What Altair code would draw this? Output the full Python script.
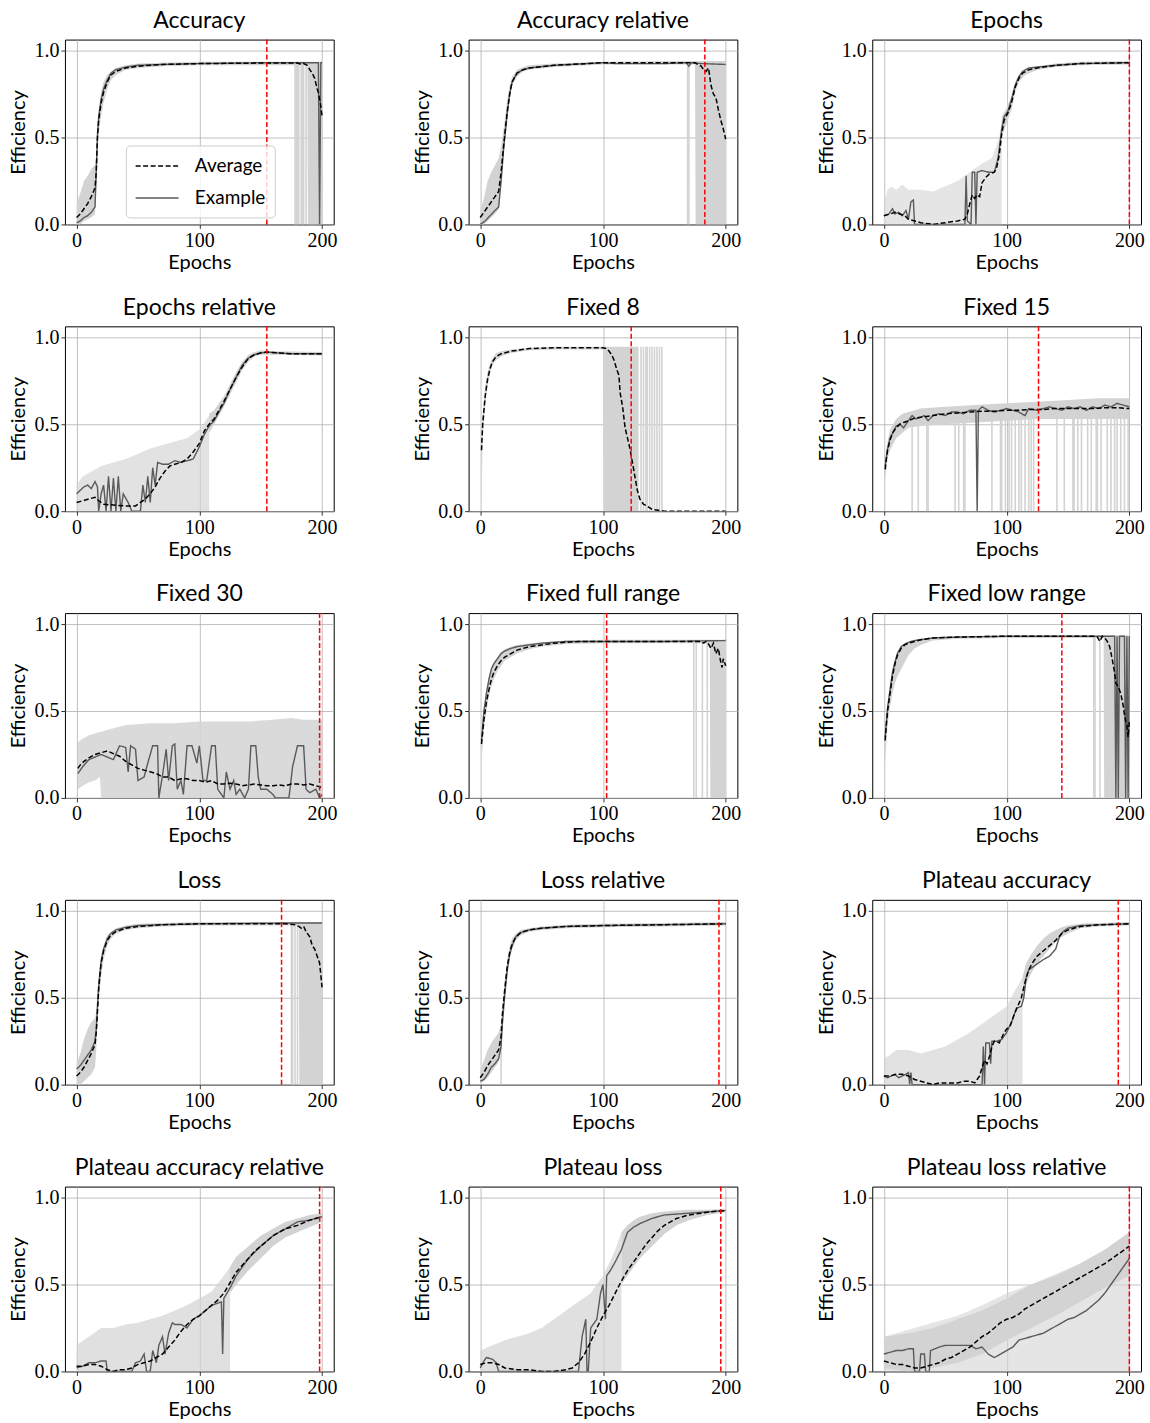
import altair as alt
import pandas as pd

TITLES = ["Accuracy", "Accuracy relative", "Epochs", "Epochs relative", "Fixed 8", "Fixed 15",
          "Fixed 30", "Fixed full range", "Fixed low range", "Loss", "Loss relative",
          "Plateau accuracy", "Plateau accuracy relative", "Plateau loss", "Plateau loss relative"]

# stop epochs (red dashed line)
STOPS = [155, 183, 200, 155, 123, 126, 198, 103, 145, 167, 194.5, 191, 198, 196, 200]

# ---------- Accuracy ----------
acc_avg = [[0,0.04],[3,0.06],[6,0.09],[9,0.12],[12,0.16],[15,0.21],[16,0.3],[17,0.5],[18,0.6],[20,0.7],[22,0.76],[25,0.82],[28,0.86],[32,0.88],[40,0.9],[50,0.91],[70,0.92],[100,0.925],[150,0.928],[180,0.928],[183,0.92],[185,0.925],[188,0.915],[190,0.89],[192,0.87],[194,0.84],[196,0.78],[197,0.76],[198,0.72],[199,0.68],[200,0.62]]
acc_ex = [[0,0.01],[3,0.02],[6,0.04],[9,0.05],[12,0.07],[15,0.1],[16,0.3],[17,0.52],[18,0.62],[20,0.72],[22,0.78],[25,0.83],[28,0.87],[32,0.89],[40,0.905],[50,0.915],[70,0.92],[100,0.925],[150,0.93],[197,0.93],[198,0.0],[199,0.93],[200,0.93]]
acc_band = [[0,0.0,0.12],[3,0.0,0.18],[6,0.02,0.25],[9,0.03,0.28],[12,0.04,0.32],[15,0.06,0.34],[16,0.2,0.4],[17,0.42,0.56],[18,0.52,0.66],[20,0.63,0.76],[22,0.7,0.82],[25,0.78,0.86],[28,0.83,0.88],[32,0.86,0.9],[40,0.89,0.915],[50,0.9,0.925],[70,0.91,0.93],[100,0.915,0.935],[188,0.915,0.935],[188.5,0.0,0.935],[200,0.0,0.935]]
acc_haze = []
acc_spikes = [[178,0.935],[179,0.935],[180,0.935],[181,0.935],[183,0.935],[184,0.935],[185,0.935],[187,0.935]]

# ---------- Accuracy relative ----------
accr_avg = [[0,0.04],[3,0.07],[6,0.1],[9,0.13],[12,0.16],[15,0.19],[17,0.3],[19,0.45],[20,0.52],[22,0.65],[24,0.75],[26,0.82],[30,0.87],[35,0.89],[40,0.9],[60,0.915],[100,0.93],[150,0.93],[175,0.93],[177,0.92],[180,0.91],[182,0.89],[184,0.88],[186,0.9],[188,0.8],[190,0.75],[192,0.73],[194,0.66],[196,0.6],[198,0.55],[200,0.49]]
accr_ex = [[0,0.0],[4,0.02],[8,0.05],[12,0.08],[15,0.1],[17,0.25],[19,0.43],[20,0.5],[22,0.64],[24,0.75],[26,0.82],[30,0.87],[35,0.89],[40,0.9],[60,0.915],[100,0.93],[110,0.925],[150,0.925],[168,0.93],[170,0.91],[172,0.93],[180,0.925],[200,0.92]]
accr_band = [[0,0.0,0.08],[3,0.0,0.15],[6,0.02,0.25],[9,0.04,0.3],[12,0.06,0.34],[15,0.09,0.38],[17,0.22,0.45],[19,0.4,0.55],[20,0.47,0.6],[22,0.6,0.72],[24,0.72,0.8],[26,0.8,0.85],[30,0.85,0.89],[35,0.88,0.905],[40,0.89,0.915],[60,0.905,0.925],[100,0.92,0.935],[175,0.92,0.94],[175.5,0.0,0.94],[200,0.0,0.94]]
accr_haze = []
accr_spikes = [[169,0.93],[170,0.93]]

# ---------- Epochs ----------
ep_avg = [[0,0.05],[5,0.06],[9,0.07],[13,0.06],[17,0.05],[20,0.03],[25,0.02],[30,0.01],[40,0.0],[50,0.01],[60,0.02],[66,0.03],[68,0.06],[70,0.12],[72,0.17],[74,0.15],[76,0.17],[78,0.16],[80,0.24],[83,0.27],[86,0.29],[90,0.3],[92,0.33],[94,0.4],[96,0.52],[98,0.6],[101,0.64],[104,0.7],[107,0.79],[110,0.84],[113,0.87],[118,0.89],[125,0.9],[140,0.915],[160,0.925],[200,0.93]]
ep_ex = [[0,0.05],[4,0.06],[7,0.09],[9,0.06],[12,0.07],[15,0.05],[18,0.08],[20,0.03],[22,0.13],[24,0.14],[25,0.0],[66,0.0],[67,0.28],[68,0.02],[71,0.0],[72,0.3],[74,0.3],[75,0.0],[76,0.3],[80,0.31],[85,0.3],[90,0.3],[93,0.38],[96,0.55],[98,0.62],[101,0.65],[104,0.72],[107,0.8],[110,0.85],[113,0.88],[118,0.9],[125,0.905],[140,0.915],[160,0.925],[200,0.93]]
ep_band = [[96,0.5,0.62],[100,0.58,0.67],[104,0.66,0.74],[107,0.76,0.82],[110,0.82,0.86],[115,0.86,0.89],[125,0.89,0.91],[140,0.905,0.925],[160,0.915,0.935],[200,0.92,0.94]]
ep_haze = [[0,0,0.12],[3,0,0.2],[6,0,0.22],[10,0,0.2],[15,0,0.23],[20,0,0.2],[30,0,0.2],[40,0,0.19],[50,0,0.22],[60,0,0.25],[70,0,0.3],[80,0,0.35],[88,0,0.38],[94,0,0.5],[96,0,0.6]]
ep_spikes = []

# ---------- Epochs relative ----------
epr_avg = [[0,0.05],[5,0.06],[10,0.07],[15,0.08],[18,0.06],[22,0.04],[30,0.035],[40,0.03],[48,0.03],[52,0.05],[56,0.07],[60,0.1],[64,0.14],[68,0.19],[72,0.23],[76,0.26],[80,0.27],[85,0.28],[90,0.3],[95,0.34],[100,0.39],[104,0.46],[108,0.5],[112,0.53],[116,0.58],[120,0.63],[125,0.7],[130,0.77],[135,0.83],[140,0.88],[145,0.9],[150,0.91],[155,0.915],[165,0.91],[175,0.905],[200,0.905]]
epr_ex = [[0,0.1],[3,0.12],[6,0.14],[9,0.15],[12,0.13],[15,0.17],[17,0.14],[18,0.0],[20,0.1],[22,0.15],[24,0.0],[26,0.2],[28,0.0],[30,0.19],[32,0.0],[34,0.2],[36,0.0],[38,0.1],[42,0.05],[45,0.0],[52,0.0],[54,0.15],[56,0.05],[58,0.2],[60,0.05],[62,0.25],[64,0.15],[66,0.28],[70,0.27],[75,0.27],[80,0.29],[85,0.28],[90,0.29],[95,0.3],[100,0.37],[104,0.44],[108,0.49],[112,0.52],[116,0.57],[120,0.62],[125,0.7],[130,0.77],[135,0.84],[140,0.88],[145,0.9],[150,0.91],[155,0.915],[165,0.91],[175,0.905],[200,0.905]]
epr_band = [[108,0.45,0.56],[112,0.5,0.58],[116,0.55,0.62],[120,0.6,0.66],[125,0.67,0.73],[130,0.74,0.8],[135,0.81,0.86],[140,0.86,0.9],[145,0.89,0.915],[150,0.9,0.925],[160,0.9,0.92],[200,0.895,0.915]]
epr_haze = [[0,0,0.15],[5,0,0.2],[10,0,0.22],[20,0,0.26],[30,0,0.28],[40,0,0.3],[50,0,0.33],[60,0,0.36],[70,0,0.38],[80,0,0.4],[90,0,0.42],[100,0,0.47],[105,0,0.52],[108,0,0.55]]
epr_spikes = []

# ---------- Fixed 8 ----------
f8_avg = [[1,0.35],[2,0.5],[4,0.66],[6,0.76],[8,0.82],[10,0.86],[13,0.89],[17,0.905],[25,0.92],[40,0.935],[60,0.94],[100,0.94],[103,0.935],[105,0.92],[107,0.9],[109,0.87],[111,0.82],[113,0.78],[114,0.68],[116,0.6],[118,0.48],[120,0.42],[122,0.36],[124,0.28],[126,0.2],[128,0.12],[130,0.07],[133,0.04],[136,0.03],[140,0.01],[145,0.005],[150,0.0],[200,0.0]]
f8_ex = []
f8_band = [[1,0.03,0.45],[2,0.42,0.56],[4,0.6,0.72],[6,0.72,0.8],[8,0.79,0.85],[10,0.84,0.88],[13,0.87,0.91],[17,0.89,0.92],[25,0.91,0.93],[40,0.925,0.94],[60,0.93,0.945],[100,0.93,0.945],[100.5,0.0,0.945],[129,0.0,0.945]]
f8_haze = []
f8_spikes = [[131,0.945],[133,0.945],[135,0.945],[136,0.945],[138,0.945],[140,0.945],[142,0.945],[144,0.945],[146,0.945],[148,0.945]]

# ---------- Fixed 15 ----------
f15_avg = [[1,0.24],[2,0.3],[3,0.35],[5,0.41],[7,0.45],[10,0.48],[13,0.5],[16,0.51],[20,0.52],[25,0.535],[30,0.54],[40,0.55],[50,0.56],[60,0.565],[70,0.57],[80,0.575],[90,0.575],[100,0.58],[110,0.58],[120,0.585],[130,0.585],[140,0.59],[150,0.59],[160,0.59],[170,0.59],[180,0.595],[190,0.595],[200,0.59]]
f15_ex = [[1,0.26],[3,0.36],[5,0.42],[8,0.46],[10,0.49],[13,0.5],[16,0.48],[20,0.52],[23,0.55],[26,0.53],[30,0.54],[33,0.55],[36,0.52],[40,0.55],[45,0.56],[50,0.55],[55,0.57],[60,0.57],[65,0.56],[70,0.58],[75,0.58],[76,0.0],[77,0.58],[80,0.6],[85,0.58],[90,0.57],[95,0.58],[100,0.59],[105,0.58],[110,0.57],[115,0.55],[118,0.59],[125,0.58],[130,0.59],[135,0.6],[140,0.59],[145,0.58],[150,0.6],[155,0.59],[160,0.6],[165,0.58],[170,0.6],[175,0.59],[180,0.61],[185,0.6],[190,0.62],[195,0.61],[200,0.6]]
f15_band = [[1,0.18,0.3],[3,0.3,0.4],[5,0.35,0.47],[10,0.42,0.53],[15,0.45,0.56],[20,0.48,0.57],[30,0.49,0.59],[50,0.5,0.6],[75,0.51,0.61],[100,0.52,0.62],[125,0.53,0.63],[150,0.53,0.64],[175,0.53,0.65],[200,0.53,0.65]]
f15_haze = []
f15_spikes = [[23,0.55],[28,0.55],[35,0.56],[36,0.56],[58,0.57],[61,0.57],[65,0.57],[66,0.57],[88,0.58],[95,0.58],[96,0.58],[99,0.59],[102,0.59],[104,0.59],[107,0.59],[110,0.59],[112,0.59],[115,0.59],[118,0.59],[120,0.59],[122,0.59],[141,0.6],[147,0.6],[154,0.6],[155,0.6],[158,0.6],[161,0.6],[166,0.6],[169,0.6],[173,0.6],[174,0.6],[177,0.6],[182,0.6],[185,0.6],[188,0.6],[190,0.6],[193,0.6],[196,0.6],[199,0.6]]

# ---------- Fixed 30 ----------
f30_avg = [[1,0.17],[3,0.19],[6,0.21],[10,0.23],[15,0.25],[20,0.26],[25,0.27],[30,0.255],[35,0.24],[40,0.21],[45,0.19],[50,0.17],[55,0.16],[60,0.15],[65,0.14],[70,0.12],[75,0.12],[80,0.1],[85,0.11],[90,0.11],[95,0.1],[100,0.1],[105,0.09],[110,0.1],[115,0.08],[120,0.08],[125,0.085],[130,0.08],[135,0.07],[140,0.075],[145,0.08],[150,0.075],[155,0.07],[160,0.07],[165,0.075],[170,0.07],[175,0.08],[180,0.08],[185,0.075],[190,0.08],[195,0.07],[200,0.06]]
f30_ex = [[1,0.14],[5,0.18],[10,0.22],[20,0.25],[30,0.22],[35,0.3],[40,0.29],[42,0.15],[44,0.3],[48,0.28],[50,0.1],[55,0.12],[58,0.2],[62,0.3],[66,0.3],[67,0.0],[70,0.13],[73,0.28],[75,0.1],[78,0.3],[80,0.31],[82,0.05],[85,0.1],[87,0.02],[90,0.3],[94,0.3],[96,0.25],[98,0.2],[100,0.3],[103,0.1],[106,0.1],[110,0.3],[113,0.3],[115,0.05],[120,0.0],[122,0.15],[125,0.05],[128,0.1],[130,0.02],[133,0.05],[137,0.0],[140,0.05],[142,0.3],[146,0.3],[148,0.12],[150,0.05],[155,0.05],[160,0.02],[162,0.0],[173,0.0],[176,0.18],[180,0.3],[185,0.3],[187,0.05],[190,0.03],[195,0.05],[198,0.0],[200,0.02]]
f30_band = []
f30_haze = [[1,0.05,0.32],[5,0.07,0.34],[10,0.09,0.36],[15,0.1,0.37],[19,0.12,0.38],[20,0,0.38],[30,0,0.4],[40,0,0.42],[60,0,0.43],[80,0,0.43],[100,0,0.44],[120,0,0.44],[140,0,0.44],[160,0,0.45],[175,0,0.46],[185,0,0.45],[200,0,0.45]]
f30_spikes = []

# ---------- Fixed full range ----------
ffr_avg = [[1,0.31],[2,0.38],[3,0.45],[5,0.55],[7,0.62],[9,0.68],[11,0.72],[14,0.76],[17,0.79],[20,0.81],[25,0.83],[30,0.85],[40,0.87],[50,0.88],[60,0.89],[80,0.9],[100,0.9],[180,0.9],[182,0.89],[184,0.9],[186,0.885],[188,0.86],[190,0.89],[192,0.83],[194,0.86],[196,0.78],[197,0.75],[198,0.8],[200,0.76]]
ffr_ex = [[1,0.33],[3,0.5],[5,0.6],[7,0.68],[9,0.74],[11,0.77],[14,0.8],[17,0.83],[20,0.845],[25,0.86],[30,0.87],[40,0.88],[50,0.89],[70,0.9],[100,0.9],[150,0.9],[200,0.905]]
ffr_band = [[1,0.2,0.35],[3,0.4,0.52],[5,0.5,0.62],[7,0.58,0.7],[9,0.64,0.75],[11,0.68,0.78],[14,0.73,0.81],[17,0.76,0.84],[20,0.79,0.855],[25,0.81,0.87],[30,0.83,0.88],[40,0.855,0.89],[50,0.87,0.895],[70,0.885,0.905],[100,0.89,0.91],[187,0.89,0.91],[187.5,0.0,0.91],[200,0.0,0.91]]
ffr_haze = []
ffr_spikes = [[174,0.91],[176,0.91],[181,0.91],[185,0.91]]

# ---------- Fixed low range ----------
flr_avg = [[1,0.33],[2,0.42],[3,0.5],[5,0.6],[7,0.7],[9,0.77],[11,0.82],[14,0.86],[17,0.88],[20,0.89],[25,0.9],[30,0.91],[40,0.92],[60,0.925],[100,0.93],[170,0.93],[174,0.925],[176,0.9],[178,0.93],[180,0.92],[182,0.9],[184,0.87],[186,0.8],[188,0.72],[189,0.66],[191,0.64],[193,0.6],[195,0.53],[196,0.48],[197,0.44],[198,0.42],[199,0.35],[200,0.44]]
flr_ex = [[1,0.35],[3,0.52],[5,0.62],[7,0.72],[9,0.78],[11,0.83],[14,0.87],[17,0.885],[20,0.895],[25,0.905],[30,0.91],[40,0.92],[60,0.925],[100,0.93],[188,0.93],[189,0.0],[190,0.93],[191,0.0],[192,0.93],[196,0.93],[197,0.0],[198,0.93],[199,0.0],[200,0.93]]
flr_band = [[1,0.2,0.38],[3,0.42,0.55],[5,0.52,0.65],[7,0.6,0.75],[9,0.66,0.8],[11,0.7,0.84],[14,0.74,0.87],[17,0.78,0.89],[20,0.82,0.9],[25,0.86,0.91],[30,0.88,0.915],[40,0.905,0.925],[60,0.915,0.93],[100,0.92,0.935],[179,0.92,0.935],[179.5,0.0,0.935],[200,0.0,0.935]]
flr_haze = []
flr_spikes = [[171,0.935],[172,0.935],[176,0.935]]

# ---------- Loss ----------
loss_avg = [[0,0.05],[3,0.07],[6,0.1],[9,0.14],[12,0.18],[15,0.23],[16,0.3],[17,0.42],[18,0.55],[19,0.63],[20,0.7],[22,0.77],[25,0.83],[28,0.86],[32,0.88],[40,0.9],[50,0.91],[70,0.92],[100,0.925],[170,0.925],[178,0.92],[181,0.91],[183,0.9],[185,0.91],[187,0.88],[189,0.86],[190,0.85],[192,0.8],[194,0.78],[195,0.76],[197,0.72],[198,0.7],[199,0.63],[200,0.56]]
loss_ex = [[0,0.09],[3,0.11],[6,0.14],[9,0.17],[12,0.2],[15,0.25],[16,0.32],[17,0.45],[18,0.57],[20,0.71],[22,0.78],[25,0.84],[28,0.87],[32,0.89],[40,0.905],[50,0.915],[70,0.92],[100,0.925],[170,0.93],[200,0.93]]
loss_band = [[0,0.0,0.12],[3,0.0,0.18],[6,0.02,0.26],[9,0.04,0.32],[12,0.06,0.36],[15,0.1,0.38],[16,0.2,0.42],[17,0.35,0.52],[18,0.48,0.62],[20,0.62,0.75],[22,0.72,0.8],[25,0.8,0.86],[28,0.84,0.88],[32,0.87,0.9],[40,0.89,0.915],[50,0.9,0.925],[70,0.91,0.93],[100,0.915,0.935],[181,0.915,0.935],[181.5,0.0,0.935],[200,0.0,0.935]]
loss_haze = []
loss_spikes = [[175,0.935],[176,0.935],[178,0.935],[180,0.935]]

# ---------- Loss relative ----------
lossr_avg = [[0,0.04],[3,0.07],[6,0.11],[9,0.14],[12,0.17],[15,0.2],[17,0.28],[18,0.4],[20,0.55],[22,0.68],[24,0.76],[26,0.81],[29,0.85],[33,0.875],[40,0.89],[50,0.9],[70,0.91],[100,0.915],[150,0.92],[200,0.925]]
lossr_ex = [[0,0.02],[3,0.03],[6,0.06],[9,0.1],[12,0.12],[15,0.15],[17,0.22],[18,0.35],[20,0.52],[22,0.66],[24,0.75],[26,0.8],[29,0.85],[33,0.875],[40,0.89],[50,0.9],[70,0.91],[100,0.915],[150,0.92],[200,0.925]]
lossr_band = [[0,0.01,0.08],[3,0.02,0.14],[6,0.04,0.2],[9,0.07,0.24],[12,0.1,0.27],[15,0.13,0.3],[17,0.2,0.35],[18,0.3,0.46],[20,0.48,0.6],[22,0.62,0.72],[24,0.72,0.8],[26,0.78,0.84],[29,0.83,0.87],[33,0.86,0.89],[40,0.88,0.9],[50,0.89,0.91],[70,0.9,0.92],[100,0.905,0.925],[150,0.91,0.93],[200,0.915,0.935]]
lossr_haze = []
lossr_spikes = [[17,0.3]]

# ---------- Plateau accuracy ----------
pa_avg = [[0,0.05],[5,0.05],[10,0.06],[15,0.06],[20,0.05],[25,0.03],[30,0.02],[35,0.01],[40,0.0],[45,0.01],[50,0.01],[60,0.01],[65,0.02],[70,0.02],[74,0.01],[76,0.03],[78,0.05],[80,0.1],[82,0.14],[84,0.12],[86,0.16],[88,0.22],[90,0.25],[92,0.25],[94,0.24],[96,0.27],[98,0.3],[100,0.32],[103,0.34],[106,0.4],[109,0.45],[112,0.5],[115,0.59],[118,0.66],[121,0.7],[125,0.74],[130,0.77],[135,0.8],[140,0.83],[145,0.87],[150,0.89],[160,0.91],[175,0.92],[200,0.925]]
pa_ex = [[0,0.05],[3,0.04],[6,0.05],[9,0.06],[12,0.04],[15,0.05],[18,0.06],[20,0.07],[21,0.0],[22,0.07],[23,0.0],[80,0.0],[81,0.22],[82,0.0],[83,0.24],[86,0.24],[87,0.12],[88,0.25],[92,0.25],[96,0.26],[100,0.3],[104,0.36],[108,0.44],[112,0.45],[114,0.5],[116,0.62],[118,0.66],[122,0.68],[126,0.7],[130,0.72],[135,0.74],[140,0.78],[143,0.85],[146,0.88],[150,0.9],[160,0.915],[200,0.925]]
pa_band = [[113,0.45,0.62],[116,0.58,0.7],[120,0.64,0.75],[125,0.7,0.8],[130,0.74,0.84],[135,0.78,0.87],[140,0.82,0.89],[145,0.85,0.905],[150,0.87,0.915],[160,0.9,0.925],[175,0.91,0.93],[200,0.915,0.935]]
pa_haze = [[0,0,0.15],[5,0,0.17],[10,0,0.2],[20,0,0.2],[30,0,0.18],[40,0,0.2],[50,0,0.22],[60,0,0.26],[70,0,0.3],[80,0,0.35],[90,0,0.4],[100,0,0.45],[105,0,0.52],[110,0,0.58],[113,0,0.62]]
pa_spikes = []

# ---------- Plateau accuracy relative ----------
par_avg = [[0,0.03],[5,0.03],[10,0.04],[15,0.04],[20,0.03],[25,0.01],[30,0.0],[35,0.01],[40,0.01],[45,0.02],[50,0.04],[55,0.05],[60,0.06],[65,0.08],[70,0.1],[75,0.14],[80,0.18],[85,0.23],[90,0.27],[95,0.3],[100,0.32],[105,0.35],[110,0.38],[115,0.41],[120,0.45],[125,0.51],[130,0.57],[135,0.61],[140,0.65],[145,0.69],[150,0.72],[160,0.78],[170,0.82],[180,0.84],[190,0.87],[200,0.89]]
par_ex = [[0,0.02],[5,0.03],[10,0.05],[15,0.05],[20,0.06],[24,0.06],[25,0.0],[45,0.0],[48,0.05],[52,0.06],[55,0.1],[57,0.0],[60,0.0],[62,0.12],[65,0.05],[67,0.15],[70,0.2],[72,0.1],[75,0.22],[78,0.28],[80,0.27],[85,0.27],[90,0.25],[95,0.3],[100,0.32],[105,0.35],[110,0.38],[114,0.39],[118,0.4],[119,0.1],[120,0.42],[125,0.48],[130,0.55],[140,0.65],[150,0.72],[160,0.78],[170,0.82],[180,0.86],[190,0.87],[200,0.89]]
par_band = [[125,0.45,0.6],[130,0.5,0.66],[140,0.58,0.72],[150,0.65,0.78],[160,0.72,0.82],[170,0.77,0.86],[180,0.8,0.88],[190,0.83,0.9],[200,0.86,0.91]]
par_haze = [[0,0,0.15],[10,0,0.2],[20,0,0.25],[30,0,0.25],[40,0,0.27],[50,0,0.28],[60,0,0.3],[70,0,0.32],[80,0,0.35],[90,0,0.38],[100,0,0.42],[110,0,0.46],[120,0,0.55],[125,0,0.6]]
par_spikes = []

# ---------- Plateau loss ----------
pl_avg = [[0,0.04],[5,0.05],[10,0.05],[15,0.04],[20,0.02],[30,0.01],[40,0.01],[50,0.0],[60,0.0],[70,0.01],[75,0.02],[80,0.05],[85,0.1],[90,0.17],[95,0.25],[100,0.32],[105,0.38],[110,0.45],[115,0.52],[120,0.58],[125,0.63],[130,0.68],[135,0.73],[140,0.77],[145,0.81],[150,0.84],[160,0.88],[170,0.9],[180,0.91],[190,0.92],[200,0.925]]
pl_ex = [[0,0.02],[3,0.06],[5,0.08],[10,0.07],[13,0.05],[15,0.0],[80,0.0],[83,0.2],[86,0.3],[87,0.0],[88,0.0],[90,0.25],[95,0.3],[98,0.45],[100,0.5],[102,0.3],[103,0.55],[106,0.58],[110,0.63],[115,0.7],[120,0.8],[125,0.83],[130,0.85],[140,0.88],[150,0.9],[170,0.91],[200,0.925]]
pl_band = [[115,0.5,0.8],[120,0.55,0.84],[125,0.6,0.87],[130,0.65,0.89],[140,0.72,0.91],[150,0.79,0.92],[160,0.84,0.925],[170,0.87,0.93],[185,0.9,0.93],[200,0.915,0.935]]
pl_haze = [[0,0,0.12],[10,0,0.15],[20,0,0.18],[30,0,0.2],[40,0,0.22],[50,0,0.25],[60,0,0.3],[70,0,0.35],[80,0,0.4],[90,0,0.45],[100,0,0.55],[105,0,0.62],[110,0,0.7],[115,0,0.8]]
pl_spikes = []

# ---------- Plateau loss relative ----------
plr_avg = [[0,0.06],[5,0.05],[10,0.04],[15,0.04],[20,0.03],[25,0.02],[30,0.02],[35,0.03],[40,0.04],[45,0.05],[50,0.07],[55,0.08],[60,0.1],[65,0.12],[70,0.14],[75,0.17],[80,0.2],[85,0.22],[90,0.25],[95,0.28],[100,0.3],[105,0.31],[110,0.33],[115,0.36],[120,0.38],[125,0.4],[130,0.42],[140,0.46],[150,0.5],[160,0.54],[170,0.58],[180,0.62],[190,0.67],[200,0.72]]
plr_ex = [[0,0.1],[5,0.11],[10,0.12],[15,0.12],[20,0.13],[24,0.13],[25,0.0],[29,0.0],[30,0.1],[33,0.1],[34,0.0],[37,0.0],[38,0.12],[45,0.14],[50,0.15],[55,0.15],[60,0.15],[65,0.15],[70,0.15],[75,0.13],[80,0.14],[85,0.1],[90,0.08],[95,0.1],[100,0.12],[105,0.14],[110,0.18],[115,0.19],[120,0.2],[125,0.21],[130,0.22],[135,0.24],[140,0.26],[145,0.28],[150,0.3],[155,0.31],[160,0.33],[165,0.35],[170,0.38],[175,0.41],[180,0.45],[185,0.5],[190,0.55],[195,0.6],[200,0.65]]
plr_band = [[0,0.02,0.2],[20,0.0,0.22],[40,0.02,0.25],[60,0.05,0.3],[80,0.1,0.35],[100,0.18,0.42],[120,0.25,0.5],[140,0.32,0.55],[160,0.4,0.62],[180,0.48,0.7],[200,0.55,0.8]]
plr_haze = [[0,0,0.2],[20,0,0.24],[40,0,0.28],[60,0,0.32],[80,0,0.38],[100,0,0.45],[120,0,0.5],[140,0,0.56],[160,0,0.62],[180,0,0.7],[200,0,0.8]]
plr_spikes = []

AVGS = [acc_avg, accr_avg, ep_avg, epr_avg, f8_avg, f15_avg, f30_avg, ffr_avg, flr_avg, loss_avg, lossr_avg, pa_avg, par_avg, pl_avg, plr_avg]
EXS = [acc_ex, accr_ex, ep_ex, epr_ex, f8_ex, f15_ex, f30_ex, ffr_ex, flr_ex, loss_ex, lossr_ex, pa_ex, par_ex, pl_ex, plr_ex]
BANDS = [acc_band, accr_band, ep_band, epr_band, f8_band, f15_band, f30_band, ffr_band, flr_band, loss_band, lossr_band, pa_band, par_band, pl_band, plr_band]
HAZES = [acc_haze, accr_haze, ep_haze, epr_haze, f8_haze, f15_haze, f30_haze, ffr_haze, flr_haze, loss_haze, lossr_haze, pa_haze, par_haze, pl_haze, plr_haze]
SPIKES = [acc_spikes, accr_spikes, ep_spikes, epr_spikes, f8_spikes, f15_spikes, f30_spikes, ffr_spikes, flr_spikes, loss_spikes, lossr_spikes, pa_spikes, par_spikes, pl_spikes, plr_spikes]

# style: how dense the noisy cloud of runs looks in each panel
HAZE_OPACITY = [0.6, 0.6, 0.6, 0.65, 0.6, 0.6, 0.85, 0.6, 0.6, 0.6, 0.6, 0.65, 0.7, 0.7, 0.6]

SANS = "Lato"
SERIF = "Liberation Serif"
GRAY = "#d3d3d3"
W, H = 269, 185

XSC = alt.Scale(domain=[-9.5, 209.5], nice=False, zero=False)
YSC = alt.Scale(domain=[0, 1.063], nice=False, zero=False)
XAX = alt.Axis(values=[0, 100, 200], title="Epochs", format="d")
YAX = alt.Axis(values=[0, 0.5, 1.0], title="Efficiency", format=".1f")


def xenc():
    return alt.X("epoch:Q", scale=XSC, axis=XAX)


def panel(i):
    layers = []
    if HAZES[i]:
        d = pd.DataFrame(HAZES[i], columns=["epoch", "lo", "hi"])
        layers.append(alt.Chart(d).mark_area(color=GRAY, opacity=HAZE_OPACITY[i], clip=True).encode(
            x=xenc(), y=alt.Y("lo:Q", scale=YSC, axis=YAX), y2="hi:Q"))
    if BANDS[i]:
        d = pd.DataFrame(BANDS[i], columns=["epoch", "lo", "hi"])
        layers.append(alt.Chart(d).mark_area(color=GRAY, clip=True).encode(
            x=xenc(), y=alt.Y("lo:Q", scale=YSC, axis=YAX), y2="hi:Q"))
    if SPIKES[i]:
        d = pd.DataFrame(SPIKES[i], columns=["epoch", "top"])
        d["bottom"] = 0.0
        layers.append(alt.Chart(d).mark_rule(color=GRAY, strokeWidth=1.6, clip=True).encode(
            x=xenc(), y=alt.Y("top:Q", scale=YSC, axis=YAX), y2="bottom:Q"))
    if i == 0:
        leg = alt.Legend(orient="none", legendX=61, legendY=106, title=None, symbolType="M-1,0H3",
                         symbolSize=462, symbolStrokeWidth=1.4, labelFont=SANS, labelFontSize=19,
                         fillColor="rgba(255,255,255,0.8)", strokeColor="#cccccc", cornerRadius=4,
                         padding=9, rowPadding=10, labelOffset=37, labelColor="black")
    else:
        leg = None
    cscale = alt.Scale(domain=["Average", "Example"], range=["black", "#5a5a5a"])
    dscale = alt.Scale(domain=["Average", "Example"], range=[[5, 2.5], [1, 0]])
    for rows, name, sw in [(EXS[i], "Example", 1.4), (AVGS[i], "Average", 1.5)]:
        if not rows:
            continue
        d = pd.DataFrame(rows, columns=["epoch", "eff"])
        d["series"] = name
        layers.append(alt.Chart(d).mark_line(strokeWidth=sw, clip=True).encode(
            x=xenc(), y=alt.Y("eff:Q", scale=YSC, axis=YAX),
            color=alt.Color("series:N", scale=cscale, legend=leg),
            strokeDash=alt.StrokeDash("series:N", scale=dscale, legend=leg)))
    d = pd.DataFrame({"epoch": [STOPS[i]]})
    layers.append(alt.Chart(d).mark_rule(color="red", strokeDash=[5, 2.5], strokeWidth=1.5).encode(x=xenc()))
    return alt.layer(*layers).properties(width=W, height=H, title=TITLES[i])


panels = [panel(i) for i in range(15)]

chart = alt.concat(*panels, columns=3, spacing={"row": 102, "column": 135}, bounds="flush").resolve_scale(
    color="independent", strokeDash="independent").resolve_legend(
    color="independent", strokeDash="independent").properties(
    padding={"left": 8, "top": 8, "right": 5, "bottom": 5}).configure_view(
    stroke="black", strokeWidth=1).configure_axis(
    labelFont=SERIF, labelFontSize=20, labelColor="black", titleFont=SANS, titleFontSize=20,
    titleFontWeight="normal", titleColor="black", gridColor="#b0b0b0", gridWidth=0.8,
    domain=False, tickColor="black", tickSize=4, tickWidth=0.8, labelPadding=2).configure_axisY(
    titlePadding=5).configure_axisX(titlePadding=2).configure_title(
    font=SANS, fontSize=23, fontWeight="normal", color="black", offset=6)

chart.save("out.html", embed_options={"renderer": "svg", "actions": False})
